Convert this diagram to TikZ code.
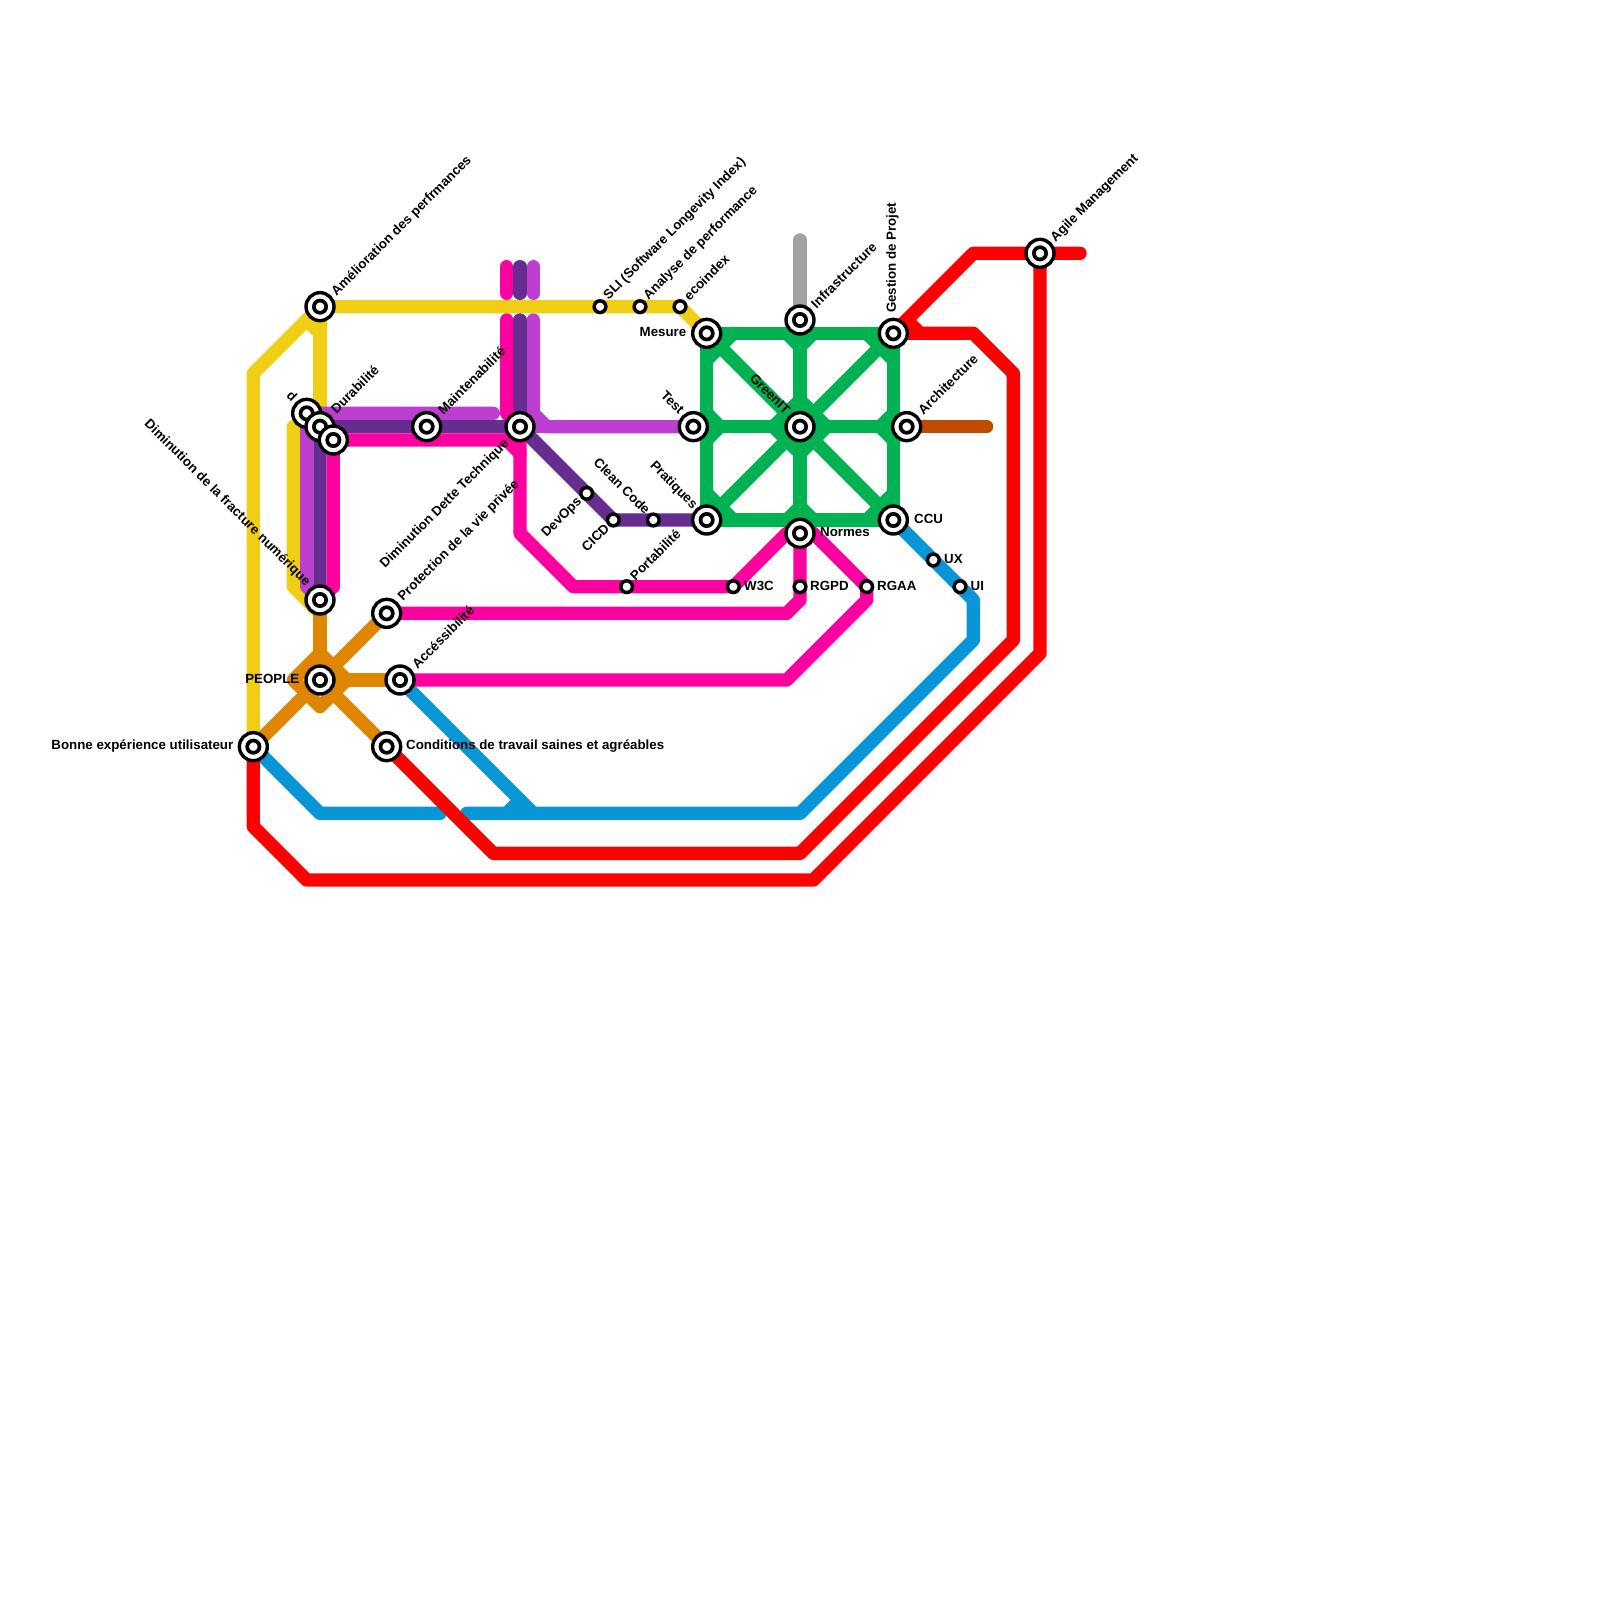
\documentclass[tikz,border=0pt]{standalone}
\usepackage{fontspec}
\setmainfont{Liberation Sans}
\definecolor{cyellow}{HTML}{F0CE15}
\definecolor{clight}{HTML}{BD3FD1}
\definecolor{cdark}{HTML}{662C90}
\definecolor{cpink}{HTML}{FF00A0}
\definecolor{cgreen}{HTML}{00B251}
\definecolor{corange}{HTML}{DF8600}
\definecolor{cblue}{HTML}{0896D7}
\definecolor{cred}{HTML}{FF0000}
\definecolor{cbrown}{HTML}{BD4B00}
\definecolor{cgrey}{HTML}{A2A2A2}
\tikzset{
  metro/.style={line width=13.33pt,line cap=round,line join=round},
  bigst/.style={circle,draw=black,fill=white,line width=3.4pt,minimum size=28pt,inner sep=0pt},
  bigcore/.style={circle,draw=black,fill=white,line width=3.7pt,minimum size=12.3pt,inner sep=0pt},
  smallst/.style={circle,draw=black,fill=white,line width=3.5pt,minimum size=11.7pt,inner sep=0pt},
  lab/.style={inner sep=0pt,font=\fontsize{13.3}{15}\selectfont\bfseries,text=black},
  ur/.style={lab,anchor=west,rotate=45},
  ure/.style={lab,anchor=east,rotate=45},
  dl/.style={lab,anchor=east,rotate=-45},
  rt/.style={lab,anchor=west},
  lt/.style={lab,anchor=east},
  up/.style={lab,anchor=west,rotate=90}
}
\newcommand{\bigstation}[1]{\node[bigst] (#1) at (p#1) {}; \node[bigcore] (#1c) at (p#1) {};}
\newcommand{\smallstation}[1]{\node[smallst] (#1) at (p#1) {};}
\begin{document}
\begin{tikzpicture}[x=1pt,y=-1pt]
\useasboundingbox (0,0) rectangle (1600,1600);
\fill[white] (0,0) rectangle (1600,1600);
% station positions
\coordinate (pamel) at (320,306.67);
\coordinate (pd) at (306.67,413.33);
\coordinate (pdura) at (320,426.67);
\coordinate (pthird) at (333.33,440);
\coordinate (pmaint) at (426.67,426.67);
\coordinate (phub) at (520,426.67);
\coordinate (pfrac) at (320,600);
\coordinate (pprot) at (386.67,613.33);
\coordinate (ppeople) at (320,680);
\coordinate (pacc) at (400,680);
\coordinate (pcond) at (386.67,746.67);
\coordinate (pbonne) at (253.33,746.67);
\coordinate (pmes) at (706.67,333.33);
\coordinate (ptest) at (693.33,426.67);
\coordinate (pprat) at (706.67,520);
\coordinate (pgreen) at (800,426.67);
\coordinate (pinfra) at (800,320);
\coordinate (pgest) at (893.33,333.33);
\coordinate (parch) at (906.67,426.67);
\coordinate (pccu) at (893.33,520);
\coordinate (pnorm) at (800,533.33);
\coordinate (pagile) at (1040,253.33);
\coordinate (psli) at (600,306.67);
\coordinate (pana) at (640,306.67);
\coordinate (peco) at (680,306.67);
\coordinate (pdev) at (586.67,493.33);
\coordinate (pcicd) at (613.33,520);
\coordinate (pclean) at (653.33,520);
\coordinate (pport) at (626.67,586.67);
\coordinate (pwtc) at (733.33,586.67);
\coordinate (prgpd) at (800,586.67);
\coordinate (prgaa) at (866.67,586.67);
\coordinate (pux) at (933.33,560);
\coordinate (pui) at (960,586.67);
% yellow
\begin{scope}[metro,draw=cyellow]
\draw (pamel) -- (peco) -- (pmes);
\draw (pamel) -- (253.33,373.33) -- (pbonne);
\draw (pamel) -- (pdura);
\draw (306.67,320) -- (320,333.33);
\draw (293.33,426.67) -- (293.33,586.67) -- (320,613.33);
\end{scope}
% light purple
\begin{scope}[metro,draw=clight]
\draw (pfrac) -- (306.67,586.67) -- (pd) -- (493.33,413.33);
\draw (533.33,266.67) -- (533.33,293.33);
\draw (533.33,320) -- (533.33,413.33) -- (546.67,426.67) -- (ptest);
\draw (phub) -- (546.67,426.67);
\end{scope}
% dark purple
\begin{scope}[metro,draw=cdark]
\draw (pfrac) -- (pdura) -- (phub) -- (pcicd) -- (pprat);
\draw (520,266.67) -- (520,293.33);
\draw (520,320) -- (phub);
\end{scope}
% pink
\begin{scope}[metro,draw=cpink]
\draw (pfrac) -- (333.33,586.67) -- (pthird) -- (506.67,440);
\draw (506.67,266.67) -- (506.67,293.33);
\draw (506.67,320) -- (506.67,413.33) -- (phub) -- (520,533.33) -- (573.33,586.67) -- (pwtc) -- (786.67,533.33) -- (pnorm);
\draw (506.67,440) -- (520,453.33);
\draw (pnorm) -- (800,600) -- (786.67,613.33) -- (pprot);
\draw (pnorm) -- (813.33,533.33) -- (prgaa) -- (866.67,600) -- (786.67,680) -- (pacc);
\end{scope}
% grey, brown
\draw[metro,draw=cgrey] (800,240) -- (pinfra);
\draw[metro,draw=cbrown] (parch) -- (986.67,426.67);
% orange
\begin{scope}[metro,draw=corange]
\draw (pfrac) -- (ppeople);
\draw (pprot) -- (pbonne);
\draw (ppeople) -- (pacc);
\draw (ppeople) -- (pcond);
\draw (320,653.33) -- (293.33,680) -- (320,706.67) -- (346.67,680) -- cycle;
\end{scope}
% blue
\begin{scope}[metro,draw=cblue]
\draw (pbonne) -- (320,813.33) -- (440,813.33);
\draw (466.67,813.33) -- (800,813.33) -- (973.33,640) -- (973.33,600) -- (pccu);
\draw (pacc) -- (533.33,813.33);
\draw (520,800) -- (506.67,813.33);
\end{scope}
% red
\begin{scope}[metro,draw=cred]
\draw (pbonne) -- (253.33,826.67) -- (306.67,880) -- (813.33,880) -- (1040,653.33) -- (pagile);
\draw (pcond) -- (493.33,853.33) -- (800,853.33) -- (1013.33,640) -- (1013.33,373.33) -- (973.33,333.33) -- (pgest);
\draw (pgest) -- (973.33,253.33) -- (1080,253.33);
\draw (906.67,320) -- (920,333.33);
\end{scope}
% green
\begin{scope}[metro,draw=cgreen]
\draw (pmes) -- (pgest) -- (pccu) -- (pprat) -- cycle;
\draw (pinfra) -- (pnorm);
\draw (706.67,426.67) -- (parch);
\draw (pmes) -- (pccu);
\draw (pgest) -- (pprat);
% corner chords
\draw (733.33,333.33) -- (706.67,360);
\draw (866.67,333.33) -- (893.33,360);
\draw (733.33,520) -- (706.67,493.33);
\draw (866.67,520) -- (893.33,493.33);
% centre diamond
\draw (800,400) -- (826.67,426.67) -- (800,453.33) -- (773.33,426.67) -- cycle;
% T junctions
\draw (706.67,413.33) -- (720,426.67) -- (706.67,440);
\draw (893.33,413.33) -- (880,426.67) -- (893.33,440);
\draw (786.67,333.33) -- (800,346.67) -- (813.33,333.33);
\draw (786.67,520) -- (800,506.67) -- (813.33,520);
\end{scope}
% stations
\bigstation{amel}
\bigstation{d}
\bigstation{dura}
\bigstation{third}
\bigstation{maint}
\bigstation{hub}
\bigstation{frac}
\bigstation{prot}
\bigstation{people}
\bigstation{acc}
\bigstation{cond}
\bigstation{bonne}
\bigstation{mes}
\bigstation{test}
\bigstation{prat}
\bigstation{green}
\bigstation{infra}
\bigstation{gest}
\bigstation{arch}
\bigstation{ccu}
\bigstation{norm}
\bigstation{agile}
\smallstation{sli}
\smallstation{ana}
\smallstation{eco}
\smallstation{dev}
\smallstation{cicd}
\smallstation{clean}
\smallstation{port}
\smallstation{wtc}
\smallstation{rgpd}
\smallstation{rgaa}
\smallstation{ux}
\smallstation{ui}
% labels
\node[ur] (lamel) at (334,294) {Amélioration des perfrmances};
\node[ur] (ldura) at (333,411) {Durabilité};
\node[ur] (lmaint) at (440,412) {Maintenabilité};
\node[ur] (lsli) at (606,298) {SLI (Software Longevity Index)};
\node[ur] (lana) at (646,298) {Analyse de performance};
\node[ur] (leco) at (686,298) {ecoindex};
\node[ur] (linfra) at (813,306) {Infrastructure};
\node[ur] (larch) at (920,412) {Architecture};
\node[ur] (lagile) at (1053,240) {Agile Management};
\node[ur] (lprot) at (400.5,599) {Protection de la vie privée};
\node[ur] (lacc) at (414,666) {Accéssibilité};
\node[ur] (lport) at (632,578) {Portabilité};
\node[up] (lgest) at (892.5,313) {Gestion de Projet};
\node[rt] (lcond) at (406,746) {Conditions de travail saines et agréables};
\node[rt] (lwtc) at (744,585.5) {W3C};
\node[rt] (lrgpd) at (810,585.5) {RGPD};
\node[rt] (lrgaa) at (877,585.5) {RGAA};
\node[rt] (lux) at (944,558.5) {UX};
\node[rt] (lui) at (970.5,585.5) {UI};
\node[rt] (lccu) at (914,518.5) {CCU};
\node[rt] (lnorm) at (820,532) {Normes};
\node[lt] (lpeople) at (299.5,678.5) {PEOPLE};
\node[lt] (lbonne) at (233.5,746) {Bonne expérience utilisateur};
\node[lt] (lmes) at (686.5,332) {Mesure};
\node[dl] (lfrac) at (308,584) {Diminution de la fracture numérique};
\node[dl] (ltest) at (682,412) {Test};
\node[dl] (lprat) at (695,507) {Pratiques};
\node[dl] (lclean) at (648,512) {Clean Code};
\node[dl] (lgreen) at (788,412) {GreenIT};
\node[dl] (ld) at (295,399) {d};
\node[ure] (ldim) at (507,442) {Diminution Dette Technique};
\node[ure] (ldev) at (580,500) {DevOps};
\node[ure] (lcicd) at (607,526) {CICD};
\end{tikzpicture}
\end{document}
